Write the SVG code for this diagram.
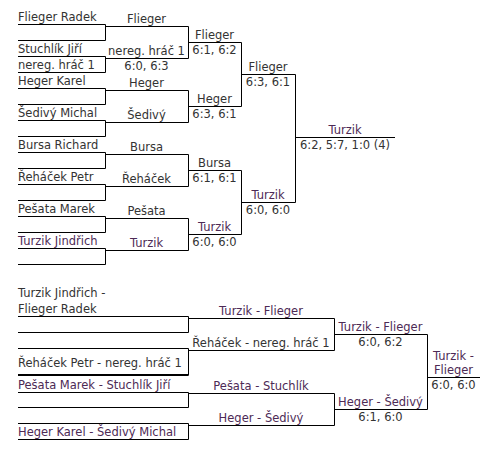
<svg xmlns="http://www.w3.org/2000/svg" width="503" height="452" viewBox="0 0 503 452">
<style>
text{font-family:"DejaVu Sans","Liberation Sans",sans-serif;font-size:11.5px;fill:#333}
.c{text-anchor:middle}
.v{fill:#4d2a55}
.ln{stroke:#000;stroke-width:1;fill:none}
</style>
<rect width="503" height="452" fill="#fff"/>
<g id="connectors" class="ln">
<!-- top round 1 boxes -->
<path d="M18 24.5H105.5V40.5H18M18 56.5H105.5V72.5H18M18 88.5H105.5V104.5H18M18 120.5H105.5V136.5H18M18 152.5H105.5V168.5H18M18 184.5H105.5V200.5H18M18 216.5H105.5V232.5H18M18 248.5H105.5V264.5H18"/>
<!-- top round 2 -->
<path d="M105 26.5H188.5V58.5H105M105 90.5H188.5V122.5H105M105 154.5H188.5V186.5H105M105 218.5H188.5V250.5H105"/>
<!-- top round 3 -->
<path d="M188 42.5H241.5V106.5H188M188 170.5H241.5V234.5H188"/>
<!-- top round 4 and final -->
<path d="M241 74.5H295.5V202.5H241M295 137.5H395"/>
<!-- bottom round 1 boxes -->
<path d="M18 316.5H188.5V332.5H18M18 348.5H188.5V375H18M18 392.5H188.5V407.5H18M18 423.5H188.5V439.5H18"/>
<path d="M18 375H188.5" stroke-width="2"/>
<!-- bottom round 2 -->
<path d="M188 318.5H334.5V350.5H188M188 393.5H334.5V425.5H188"/>
<!-- bottom round 3 and final -->
<path d="M334 334.5H427.5V409.5H334M427 377.5H480"/>
</g>
<g id="p-flieger"><text x="18" y="21">Flieger Radek</text></g>
<g id="p-stuchlik"><text x="18" y="53">Stuchlík Jiří</text><text x="18" y="69">nereg. hráč 1</text></g>
<g id="p-heger"><text x="18" y="85">Heger Karel</text></g>
<g id="p-sedivy"><text x="18" y="117">Šedivý Michal</text></g>
<g id="p-bursa"><text x="18" y="149">Bursa Richard</text></g>
<g id="p-rehacek"><text x="18" y="181">Řeháček Petr</text></g>
<g id="p-pesata"><text x="18" y="213">Pešata Marek</text></g>
<g id="p-turzik"><text x="18" y="245" class="v">Turzik Jindřich</text></g>
<g id="r2-1"><text x="146.5" y="23" class="c">Flieger</text></g>
<g id="r2-2"><text x="146.5" y="55" class="c">nereg. hráč 1</text><text x="146.5" y="70" class="c">6:0, 6:3</text></g>
<g id="r2-3"><text x="146.5" y="87" class="c">Heger</text></g>
<g id="r2-4"><text x="146.5" y="119" class="c">Šedivý</text></g>
<g id="r2-5"><text x="146.5" y="151" class="c">Bursa</text></g>
<g id="r2-6"><text x="146.5" y="183" class="c">Řeháček</text></g>
<g id="r2-7"><text x="146.5" y="215" class="c">Pešata</text></g>
<g id="r2-8"><text x="146.5" y="247" class="c v">Turzik</text></g>
<g id="r3-1"><text x="214.5" y="39" class="c">Flieger</text><text x="214.5" y="54" class="c">6:1, 6:2</text></g>
<g id="r3-2"><text x="214.5" y="103" class="c">Heger</text><text x="214.5" y="118" class="c">6:3, 6:1</text></g>
<g id="r3-3"><text x="214.5" y="167" class="c">Bursa</text><text x="214.5" y="182" class="c">6:1, 6:1</text></g>
<g id="r3-4"><text x="214.5" y="231" class="c v">Turzik</text><text x="214.5" y="246" class="c">6:0, 6:0</text></g>
<g id="r4-1"><text x="268" y="71" class="c">Flieger</text><text x="268" y="86" class="c">6:3, 6:1</text></g>
<g id="r4-2"><text x="268" y="199" class="c v">Turzik</text><text x="268" y="214" class="c">6:0, 6:0</text></g>
<g id="final"><text x="345" y="134" class="c v">Turzik</text><text x="345" y="149" class="c">6:2, 5:7, 1:0 (4)</text></g>
<g id="d-1"><text x="18" y="297">Turzik Jindřich -</text><text x="18" y="313">Flieger Radek</text></g>
<g id="d-2"><text x="18" y="367">Řeháček Petr - nereg. hráč 1</text></g>
<g id="d-3"><text x="18" y="389" class="v">Pešata Marek - Stuchlík Jiří</text></g>
<g id="d-4"><text x="18" y="436" class="v">Heger Karel - Šedivý Michal</text></g>
<g id="dr2-1"><text x="261" y="315" class="c v">Turzik - Flieger</text></g>
<g id="dr2-2"><text x="261" y="347" class="c">Řeháček - nereg. hráč 1</text></g>
<g id="dr2-3"><text x="261" y="390" class="c v">Pešata - Stuchlík</text></g>
<g id="dr2-4"><text x="261" y="422" class="c v">Heger - Šedivý</text></g>
<g id="dr3-1"><text x="380.5" y="331" class="c v">Turzik - Flieger</text><text x="380.5" y="346" class="c">6:0, 6:2</text></g>
<g id="dr3-2"><text x="380.5" y="406" class="c v">Heger - Šedivý</text><text x="380.5" y="421" class="c">6:1, 6:0</text></g>
<g id="dfinal"><text x="453.5" y="360" class="c v">Turzik -</text><text x="453.5" y="374" class="c v">Flieger</text><text x="453.5" y="389" class="c">6:0, 6:0</text></g>
</svg>
